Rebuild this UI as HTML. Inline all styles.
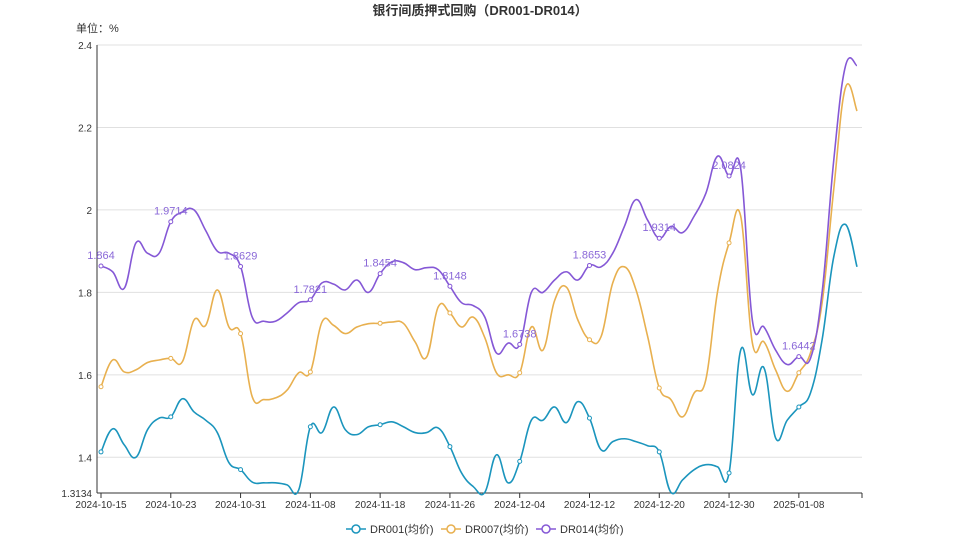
<!DOCTYPE html>
<html><head><meta charset="utf-8"><style>
body{margin:0;background:#fff;font-family:"Liberation Sans","Noto Sans CJK SC",sans-serif}
svg text{font-family:"Liberation Sans","Noto Sans CJK SC",sans-serif}
</style></head><body>
<svg id="c" width="959" height="539" xmlns="http://www.w3.org/2000/svg">
<text x="480" y="15" text-anchor="middle" font-size="13" font-weight="bold" fill="#333">银行间质押式回购（DR001-DR014）</text>
<text x="76" y="32" font-size="11" fill="#333">单位：%</text>
<g id="grid"></g><g id="series"></g><g id="legend"></g>
</svg>
<script>
const dates=["2024-10-15","2024-10-16","2024-10-17","2024-10-18","2024-10-21","2024-10-22","2024-10-23","2024-10-24","2024-10-25","2024-10-28","2024-10-29","2024-10-30","2024-10-31","2024-11-01","2024-11-04","2024-11-05","2024-11-06","2024-11-07","2024-11-08","2024-11-11","2024-11-12","2024-11-13","2024-11-14","2024-11-15","2024-11-18","2024-11-19","2024-11-20","2024-11-21","2024-11-22","2024-11-25","2024-11-26","2024-11-27","2024-11-28","2024-11-29","2024-12-02","2024-12-03","2024-12-04","2024-12-05","2024-12-06","2024-12-09","2024-12-10","2024-12-11","2024-12-12","2024-12-13","2024-12-16","2024-12-17","2024-12-18","2024-12-19","2024-12-20","2024-12-23","2024-12-24","2024-12-25","2024-12-26","2024-12-27","2024-12-30","2024-12-31","2025-01-02","2025-01-03","2025-01-06","2025-01-07","2025-01-08","2025-01-09","2025-01-10","2025-01-13","2025-01-14","2025-01-15"];
const dr001=[1.413,1.469,1.43,1.40,1.467,1.495,1.498,1.542,1.51,1.49,1.46,1.387,1.37,1.34,1.338,1.338,1.333,1.321,1.474,1.46,1.522,1.467,1.455,1.474,1.479,1.486,1.474,1.46,1.46,1.471,1.426,1.362,1.329,1.315,1.406,1.338,1.39,1.49,1.49,1.522,1.484,1.535,1.495,1.418,1.438,1.445,1.438,1.428,1.413,1.315,1.345,1.37,1.382,1.377,1.362,1.66,1.552,1.617,1.447,1.49,1.522,1.556,1.685,1.886,1.965,1.862];
const dr007=[1.571,1.636,1.607,1.612,1.63,1.636,1.64,1.632,1.733,1.72,1.806,1.716,1.70,1.547,1.54,1.544,1.563,1.605,1.607,1.728,1.72,1.70,1.716,1.724,1.725,1.728,1.725,1.68,1.643,1.765,1.75,1.716,1.74,1.69,1.605,1.60,1.605,1.716,1.66,1.78,1.813,1.733,1.685,1.693,1.823,1.862,1.806,1.693,1.568,1.54,1.498,1.556,1.588,1.80,1.92,1.985,1.678,1.68,1.612,1.56,1.605,1.653,1.775,2.05,2.296,2.24];
const dr014=[1.864,1.85,1.81,1.92,1.895,1.895,1.9714,1.995,2.0,1.95,1.9,1.895,1.8629,1.74,1.73,1.73,1.75,1.775,1.7821,1.823,1.82,1.806,1.83,1.80,1.8454,1.874,1.872,1.855,1.86,1.855,1.8148,1.775,1.768,1.74,1.653,1.677,1.6738,1.80,1.80,1.83,1.85,1.83,1.8653,1.862,1.895,1.96,2.025,1.975,1.9314,1.96,1.945,1.985,2.04,2.13,2.0824,2.10,1.733,1.716,1.66,1.625,1.6442,1.64,1.80,2.12,2.348,2.35];
const yTicks=[2.4,2.2,2,1.8,1.6,1.4];
const yMin=1.3134,yMax=2.4;
const NS="http://www.w3.org/2000/svg";
const L=97,R=862,T=45,B=493,X0=101,X1=857;
const xs=i=>X0+i*(X1-X0)/(dates.length-1);
const ys=v=>B-(v-yMin)/(yMax-yMin)*(B-T);
function mk(tag,attrs,parent){const e=document.createElementNS(NS,tag);for(const k in attrs)e.setAttribute(k,attrs[k]);parent.appendChild(e);return e;}
const g=document.getElementById('grid');
yTicks.forEach(t=>{
 const l=mk('line',{x1:L,x2:R,y1:ys(t),y2:ys(t),stroke:'#e0e0e0'},g);
 
 
 const tx=mk('text',{x:92,y:ys(t)+4,'text-anchor':'end','font-size':10,fill:'#333'},g);
 tx.textContent=String(t);
 
 
});
const mn=mk('text',{x:92,y:B+4,'text-anchor':'end','font-size':10,fill:'#333'},g);
mn.textContent=String(yMin);


const ya=mk('line',{x1:L,x2:L,y1:T,y2:B,stroke:'#333'},g);


const xa=mk('line',{x1:L,x2:R,y1:B,y2:B,stroke:'#333'},g);


for(let i=0;i<dates.length;i+=6){
 const tk=mk('line',{x1:xs(i),x2:xs(i),y1:B,y2:B+5,stroke:'#333'},g);
 
 
 const tx=mk('text',{x:xs(i),y:B+15,'text-anchor':'middle','font-size':10,fill:'#333'},g);
 tx.textContent=dates[i];
 
 
}
const et=mk('line',{x1:R,x2:R,y1:B,y2:B+5,stroke:'#333'},g);


function path(vals){
 const p=vals.map((v,i)=>[xs(i),ys(v)]);const s=0.2;let d=`M${p[0][0]},${p[0][1]}`;
 for(let i=0;i<p.length-1;i++){
  const p0=p[Math.max(0,i-1)],p1=p[i],p2=p[i+1],p3=p[Math.min(p.length-1,i+2)];
  d+=` C${p1[0]+(p2[0]-p0[0])*s},${p1[1]+(p2[1]-p0[1])*s} ${p2[0]-(p3[0]-p1[0])*s},${p2[1]-(p3[1]-p1[1])*s} ${p2[0]},${p2[1]}`;
 }
 return d;
}
const S=document.getElementById('series');
const series=[["dr001",dr001,"#1b95bd","DR001(均价)"],["dr007",dr007,"#e8b04f","DR007(均价)"],["dr014",dr014,"#8558d6","DR014(均价)"]];
series.forEach(([n,vals,col,lab])=>{
 const pe=mk('path',{d:path(vals),fill:'none',stroke:col,'stroke-width':1.6},S);
 
 
 for(let i=0;i<vals.length;i+=6){
  const c=mk('circle',{cx:xs(i),cy:ys(vals[i]),r:2,fill:'#fff',stroke:col,'stroke-width':1},S);
  
  
  if(n==='dr014'){
   const t=mk('text',{x:xs(i),y:ys(vals[i])-7,'text-anchor':'middle','font-size':11,fill:'#8a68d8'},S);
   t.textContent=String(vals[i]);
   
   
  }
 }
});
const Lg=document.getElementById('legend');
const lx=[346,441,536];
series.forEach(([n,vals,col,lab],k)=>{
 const x=lx[k],y=529;
 const gi=mk('g',{},Lg);
 
 
 mk('line',{x1:x,x2:x+20,y1:y,y2:y,stroke:col,'stroke-width':1.6},gi);
 mk('circle',{cx:x+10,cy:y,r:4,fill:'#fff',stroke:col,'stroke-width':1.5},gi);
 const t=mk('text',{x:x+24,y:y+4,'font-size':11,fill:'#333'},gi);
 t.textContent=lab;
});
</script>
</body></html>
